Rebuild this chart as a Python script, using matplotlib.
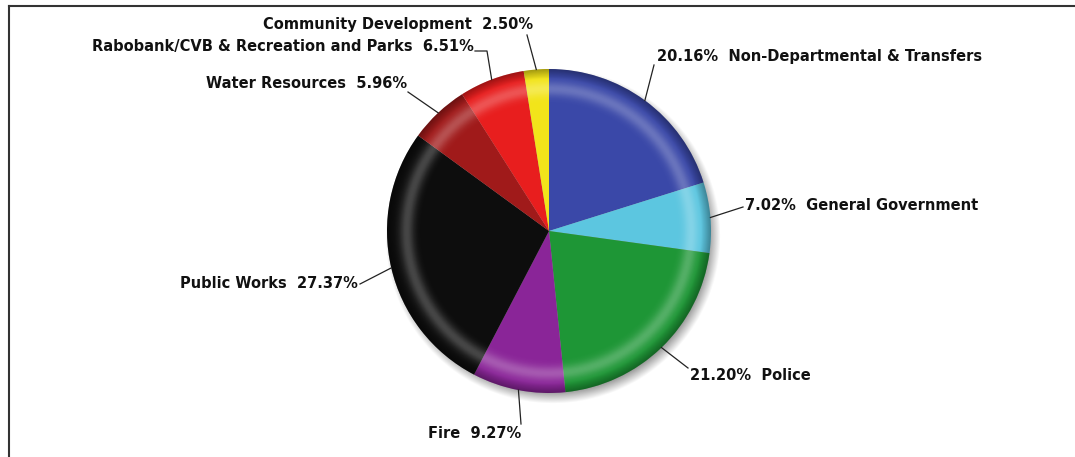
import numpy as np
import matplotlib
matplotlib.use("Agg")
import matplotlib.pyplot as plt
from matplotlib.patches import Circle

W, H = 1075, 457

names = ["Non-Departmental & Transfers", "General Government", "Police", "Fire",
         "Public Works", "Water Resources", "Rabobank/CVB & Recreation and Parks",
         "Community Development"]
shares = [20.16, 7.02, 21.20, 9.27, 27.37, 5.96, 6.51, 2.50]
colors = ["#3a48a8", "#5cc6e0", "#1e9636", "#8a2598", "#0d0d0d", "#a01a1a", "#e81e1e", "#f2e41a"]

# label layout in pixel units (x, y from top): text position, alignment, leader start, elbow
label_pos = [(657, 57), (745, 205), (690, 376), (521, 434),
             (358, 283), (407, 83), (474, 46), (533, 25)]
label_side = ["left", "left", "left", "right", "right", "right", "right", "right"]
leader_from = [(654, 65), (743, 207), (688, 368), (521, 424),
               (360, 284), (408, 92), (475, 51), (527, 35)]
leader_elbow = [None, None, None, None, None, None, (487, 51), None]

cx, cy, R = 549, H - 231, 162

fig = plt.figure(figsize=(W / 100, H / 100), dpi=100)
ax = fig.add_axes([0, 0, 1, 1])
ax.set_xlim(0, W)
ax.set_ylim(0, H)
ax.set_aspect("equal")
ax.axis("off")

# soft drop shadow
n = 400
gx = np.linspace(cx - R - 20, cx + R + 20, n)
gy = np.linspace(cy - R - 20, cy + R + 20, n)
XX, YY = np.meshgrid(gx, gy)
d = np.hypot(XX - (cx + 4), YY - (cy - 5))
sh = np.zeros((n, n, 4))
sh[..., 3] = 0.40 * np.clip((R + 6 - d) / 12, 0, 1)
ax.imshow(sh, extent=(gx[0], gx[-1], gy[0], gy[-1]), origin="lower", zorder=1, interpolation="bilinear")

wedges, _ = ax.pie(shares, colors=colors, startangle=90, counterclock=False,
                   center=(cx, cy), radius=R, wedgeprops=dict(linewidth=0))
for w in wedges:
    w.set_zorder(2)

# rim highlight and dark outer edge
px = np.linspace(cx - R, cx + R, n)
py = np.linspace(cy - R, cy + R, n)
PX, PY = np.meshgrid(px, py)
r = np.hypot(PX - cx, PY - cy) / R
glow = 0.24 * np.exp(-((r - 0.88) / 0.045) ** 2)
dark = 0.32 * np.clip((r - 0.94) / 0.06, 0, 1)
rgba = np.zeros((n, n, 4))
val = glow / np.maximum(glow + dark, 1e-6)
rgba[..., 0] = val
rgba[..., 1] = val
rgba[..., 2] = val
rgba[..., 3] = np.clip(glow + dark, 0, 1)
im = ax.imshow(rgba, extent=(px[0], px[-1], py[0], py[-1]), origin="lower", zorder=3, interpolation="bilinear")
clip = Circle((cx, cy), R, transform=ax.transData)
im.set_clip_path(clip)

ax.set_xlim(0, W)
ax.set_ylim(0, H)

# labels and leader lines
theta = 90 - (np.cumsum(shares) - np.array(shares) / 2) / sum(shares) * 360
for i, name in enumerate(names):
    ex = cx + R * np.cos(np.radians(theta[i]))
    ey = cy + R * np.sin(np.radians(theta[i]))
    pts = [leader_from[i]]
    if leader_elbow[i] is not None:
        pts.append(leader_elbow[i])
    xs = [p[0] for p in pts] + [ex]
    ys = [H - p[1] for p in pts] + [ey]
    ax.plot(xs, ys, color="#222222", lw=0.9, zorder=4)
    if label_side[i] == "left":
        txt = f"{shares[i]:.2f}%  {name}"
        ha = "left"
    else:
        txt = f"{name}  {shares[i]:.2f}%"
        ha = "right"
    ax.text(label_pos[i][0], H - label_pos[i][1], txt, ha=ha, va="center",
            fontsize=10.5, fontweight="bold", color="#111111", family="DejaVu Sans", zorder=5)

# frame lines
ax.plot([9, W], [H - 6, H - 6], color="#333333", lw=1.5, zorder=6)
ax.plot([9, 9], [H - 6, 0], color="#333333", lw=1.5, zorder=6)

fig.savefig("out.png", dpi=100)
